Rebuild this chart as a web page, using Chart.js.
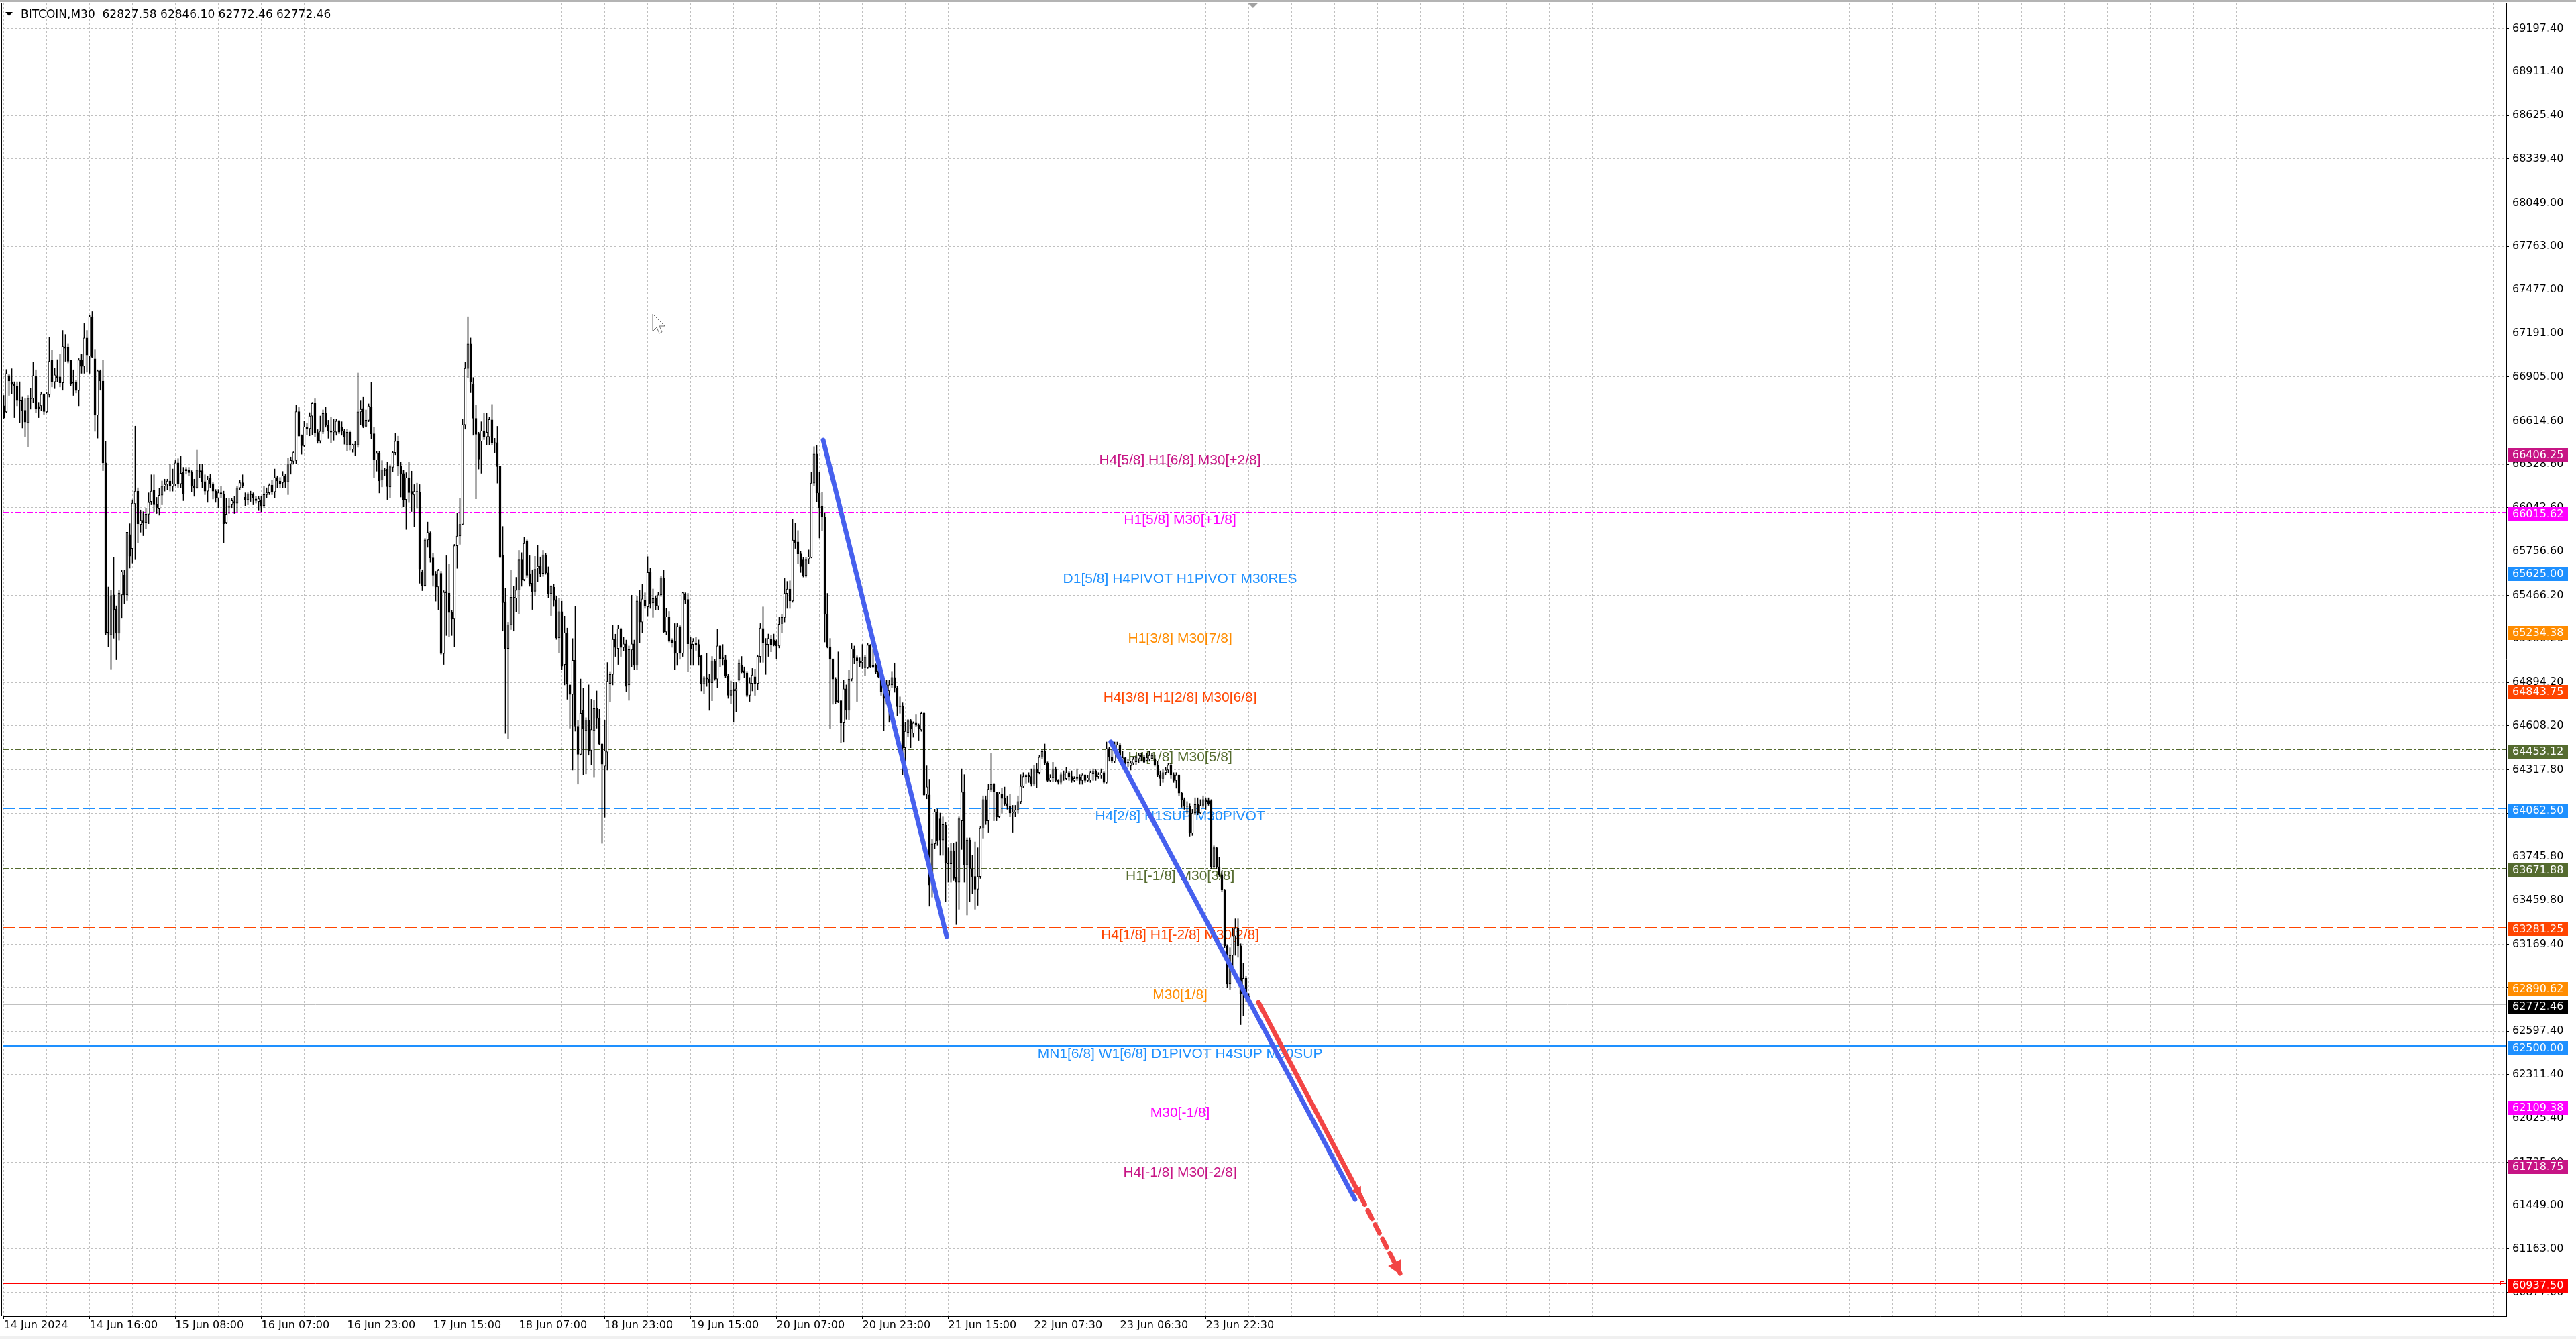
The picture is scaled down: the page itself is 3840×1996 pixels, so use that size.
<!DOCTYPE html>
<html>
<head>
<meta charset="utf-8">
<style>
  html, body { margin: 0; padding: 0; background: #fff; }
  canvas { display: block; }
</style>
<script src="https://cdn.jsdelivr.net/npm/chart.js@4.4.1/dist/chart.umd.min.js"></script>
</head>
<body>
<canvas id="chart" width="3840" height="1996"></canvas>
<script>
const SYMBOL = "BITCOIN,M30";

// one label every 32 bars, as on the time axis
const TIME_LABELS = ["14 Jun 2024", "14 Jun 16:00", "15 Jun 08:00", "16 Jun 07:00", "16 Jun 23:00",
  "17 Jun 15:00", "18 Jun 07:00", "18 Jun 23:00", "19 Jun 15:00", "20 Jun 07:00", "20 Jun 23:00",
  "21 Jun 15:00", "22 Jun 07:30", "23 Jun 06:30", "23 Jun 22:30"];

const OPEN = [
  66714,66674,66913,66872,66856,66843,66748,66748,66685,66602,66764,66764,66908,66710,66714,66789,66674,66787,67012,66872,
  66913,66904,66865,67102,67097,67012,66872,66872,66814,67016,66973,67160,67041,67300,67023,66652,66944,66877,66339,65224,
  65206,65469,65375,65217,65469,65600,65469,65866,65774,66069,66152,65933,65960,65945,66001,66084,66156,66066,66035,66125,
  66184,66197,66219,66183,66197,66339,66201,66275,66287,66291,66275,66186,66174,66287,66287,66215,66152,66237,66201,66152,
  66107,66141,66134,65945,66039,66062,66084,66073,66174,66208,66111,66095,66134,66134,66100,66084,66095,66057,66129,66141,
  66192,66147,66242,66219,66208,66248,66213,66332,66350,66354,66676,66523,66451,66575,66564,66647,66730,66539,66483,66544,
  66664,66585,66550,66540,66540,66613,66575,66550,66455,66540,66428,66457,66455,66674,66697,66579,66619,66707,66530,66357,
  66402,66225,66294,66298,66180,66310,66406,66481,66319,66268,66097,66241,66150,66127,66150,66146,65621,65530,65831,65877,
  65713,65609,65522,65611,65083,65491,65481,65353,65314,65792,65857,65934,66589,66960,67120,66855,66632,66530,66481,66550,
  66510,66510,66622,66471,66471,66317,65727,65424,65117,65272,65454,65448,65501,65700,65570,65822,65609,65546,65493,65644,
  65658,65611,65733,65615,65477,65520,65438,65186,65359,65011,65217,64877,64814,65038,64605,64420,64710,64576,64645,64446,
  64576,64720,64655,64487,64341,64434,64887,64946,65176,65117,65247,65123,65147,64877,65107,65147,65005,65425,65291,65435,
  65390,65617,65416,65445,65396,65469,65581,65226,65325,65173,65167,65084,65262,65084,65475,65439,65147,65143,65153,65143,
  65068,64881,64926,64916,64891,65035,64916,65133,65055,65041,64936,64808,64847,64837,64910,65005,64970,64956,64808,64887,
  64930,64887,65064,65248,65147,65143,65179,65173,65167,65133,65281,65321,65479,65508,65429,65830,65818,65739,65700,65597,
  65706,65716,66205,66396,66140,66051,65982,65341,65128,65045,64916,64772,64772,64626,64851,64709,64916,65114,65055,65035,
  65025,64989,64989,65139,65005,65009,64970,64930,64877,64788,64837,64877,64926,64857,64739,64739,64463,64563,64640,64559,
  64626,64611,64581,64690,64157,64153,63565,63831,64042,63995,63856,63952,63704,63699,63785,63608,63578,63982,64172,63691,
  63856,63666,63615,63532,63615,63932,64122,63982,64190,64223,64172,64008,64160,64129,64096,64078,64033,64040,64053,64109,
  64210,64273,64281,64273,64223,64324,64299,64400,64438,64362,64248,64266,64324,64248,64235,64286,64260,64299,64273,64248,
  64261,64271,64248,64281,64248,64250,64290,64311,64273,64281,64299,64235,64458,64400,64374,64438,64483,64387,64397,64362,
  64345,64362,64370,64390,64412,64402,64380,64387,64392,64392,64349,64281,64261,64299,64316,64349,64286,64248,64281,64165,
  64122,64078,64076,63901,64033,64089,64033,64084,64122,64115,64115,63679,63805,63679,63628,63527,63160,62907,63097,63223,
  63274,63160,62844,62945,62827.58
];
const HIGH = [
  66782,66953,66922,66958,66872,66872,66872,66771,66760,66782,66827,67000,66951,66737,66805,66793,66805,67165,67082,66962,
  67018,67052,67210,67183,67120,67012,66951,66883,67025,67052,67255,67210,67311,67334,67086,66951,66951,67014,66478,65521,
  65499,65717,65397,65499,65634,65634,65882,65938,66095,66580,66174,66028,66017,66039,66141,66260,66260,66111,66170,66219,
  66231,66231,66332,66298,66354,66366,66381,66309,66309,66309,66287,66231,66422,66332,66332,66260,66253,66264,66208,66163,
  66163,66186,66152,66107,66107,66107,66118,66186,66224,66260,66141,66141,66152,66141,66118,66118,66118,66186,66174,66201,
  66224,66298,66253,66242,66282,66264,66370,66377,66411,66719,66703,66523,66613,66602,66669,66737,66760,66557,66647,66687,
  66707,66619,66638,66624,66628,66619,66609,66560,66560,66550,66461,66481,66930,66746,66770,66687,66727,66868,66573,66412,
  66416,66353,66304,66343,66323,66416,66534,66514,66343,66290,66274,66343,66284,66195,66205,66195,65635,65841,65949,65885,
  65743,65625,65639,65625,65497,65727,65674,65369,65802,66008,66107,66628,67000,67300,67160,66900,66717,66540,66609,66668,
  66664,66638,66723,66500,66579,66317,65920,65511,65290,65635,65526,65585,65762,65747,65851,65831,65727,65635,65723,65798,
  65719,65762,65743,65654,65530,65542,65463,65448,65428,65330,65251,64877,65182,65393,64641,64916,64857,64661,64877,64782,
  64778,64837,64716,64493,64641,65024,64965,65271,65211,65271,65251,65192,65172,65133,65467,65172,65459,65498,65538,65483,
  65721,65646,65508,65463,65489,65593,65633,65380,65360,65183,65281,65281,65272,65489,65483,65479,65193,65183,65193,65173,
  65074,64936,65084,64946,65064,65045,65246,65139,65143,65074,64946,64903,64897,64897,65041,65064,64995,64966,64926,64985,
  64981,65074,65281,65390,65183,65212,65206,65212,65173,65321,65341,65577,65558,65562,65968,65942,65893,65755,65716,65716,
  65765,66278,66445,66455,66278,66146,66011,65479,65183,65049,64926,65094,64778,64910,64877,64976,65153,65133,65068,65055,
  65143,65074,65153,65143,65114,65015,64981,64946,64907,64907,64907,64966,65021,64867,64798,64759,64630,64650,64650,64634,
  64680,64621,64699,64694,64344,64256,63860,64058,64060,64033,64008,63970,63805,63836,63836,63843,64008,64324,64286,63870,
  63870,63755,63843,63805,63944,64147,64147,64223,64425,64230,64172,64172,64198,64205,64147,64160,64084,64084,64147,64286,
  64299,64286,64299,64324,64349,64360,64412,64450,64488,64370,64286,64367,64337,64255,64299,64311,64332,64306,64311,64273,
  64324,64286,64291,64286,64281,64311,64324,64318,64299,64324,64305,64501,64468,64450,64501,64501,64495,64438,64400,64387,
  64374,64400,64412,64425,64425,64412,64425,64438,64425,64412,64374,64311,64316,64332,64362,64362,64299,64299,64285,64172,
  64134,64109,64096,64058,64134,64134,64122,64147,64134,64134,64122,63818,63810,63742,63653,63532,63168,63147,63274,63337,
  63337,63173,63046,62958,62846.10
];
const LOW = [
  66630,66669,66782,66793,66636,66714,66602,66568,66512,66444,66692,66737,66669,66636,66681,66658,66669,66771,66838,66827,
  66872,66838,66816,67007,66996,66845,66782,66798,66714,66928,66928,66935,66928,67030,66546,66501,66816,66287,65206,65127,
  64981,65184,65042,65172,65319,65409,65431,65645,65679,65701,65814,65882,65859,65904,65938,66062,66017,66005,65994,66062,
  66152,66163,66152,66152,66186,66174,66174,66089,66264,66253,66147,66118,66170,66242,66174,66129,66078,66174,66100,66078,
  66039,66107,65814,65938,66005,66039,66005,66017,66163,66174,66057,66062,66084,66062,66073,66028,66017,66039,66107,66129,
  66129,66107,66174,66174,66174,66174,66129,66264,66332,66332,66512,66395,66444,66523,66516,66523,66512,66467,66467,66530,
  66573,66500,66471,66487,66520,66530,66520,66461,66416,66422,66408,66388,66440,66589,66569,66573,66609,66495,66239,66284,
  66140,66180,66254,66097,66107,66278,66392,66254,66113,66048,65900,66077,66018,65920,66038,65546,65497,65526,65782,65684,
  65526,65428,65369,65078,65011,65202,65196,65202,65129,65644,65802,65930,66560,66900,66800,66520,66101,66298,66270,66491,
  66455,66455,66455,66402,66205,65713,65231,64558,64523,65241,65231,65359,65345,65526,65562,65585,65526,65373,65461,65556,
  65589,65591,65605,65452,65333,65393,65176,65089,64979,64877,64782,64592,64316,64572,64224,64414,64286,64290,64414,64349,
  64271,64592,64483,63834,64005,64316,64763,64877,65064,65011,65064,65103,64834,64775,64995,64976,64976,65153,65222,65380,
  65331,65380,65321,65370,65370,65459,65222,65206,65159,65124,64976,65005,65045,65064,65410,64966,65005,65005,65104,65005,
  64837,64818,64867,64709,64772,64907,64857,64995,65005,64926,64788,64753,64630,64699,64903,64956,64926,64798,64768,64837,
  64808,64843,65025,65025,64946,65064,65094,65133,65049,65120,65218,65291,65380,65380,65420,65775,65676,65617,65587,65587,
  65676,65712,66185,66081,65844,65889,65159,65120,64591,64749,64753,64759,64496,64502,64650,64646,64903,65015,64768,64995,
  64985,64936,64985,64989,64989,64950,64922,64808,64575,64749,64630,64857,64828,64674,64690,64285,64345,64536,64463,64532,
  64601,64512,64571,64147,64127,63420,63480,63800,63820,63755,63755,63451,63578,63578,63590,63299,63400,63793,63578,63362,
  63451,63502,63400,63426,63603,63868,63957,63907,64172,63982,63982,64000,64033,64084,64058,64008,63907,64008,64033,64096,
  64198,64230,64235,64210,64215,64200,64290,64390,64349,64240,64240,64240,64240,64223,64223,64248,64255,64248,64235,64240,
  64248,64223,64223,64235,64240,64235,64248,64248,64261,64261,64230,64230,64374,64362,64362,64400,64374,64374,64349,64337,
  64316,64349,64349,64362,64374,64362,64374,64374,64387,64342,64273,64215,64235,64286,64299,64261,64235,64197,64147,64071,
  64058,64033,63881,63886,64021,64021,64028,64071,64058,64084,63666,63670,63666,63616,63514,63147,62882,62869,63021,63097,
  63084,62640,62700,62790,62772.46
];
const CLOSE = [
  66636,66926,66877,66854,66843,66748,66746,66681,66607,66764,66760,66913,66692,66697,66789,66676,66793,67007,66872,66917,
  66899,66865,67104,67093,67007,66861,66863,66814,67016,66973,67160,67048,67300,67034,66652,66944,66877,66339,65217,65217,
  65465,65371,65217,65481,65623,65469,65882,65724,66073,66152,65938,65960,65945,66001,66078,66152,66062,66039,66125,66186,
  66197,66219,66186,66201,66339,66201,66271,66134,66296,66275,66186,66174,66291,66282,66215,66152,66226,66197,66152,66107,
  66141,66136,65938,66001,66055,66089,66073,66174,66208,66186,66095,66134,66129,66107,66089,66102,66050,66129,66141,66192,
  66147,66242,66219,66201,66253,66215,66332,66354,66406,66676,66516,66451,66575,66564,66647,66730,66534,66483,66546,66664,
  66585,66550,66540,66550,66613,66540,66550,66510,66540,66455,66457,66455,66674,66691,66579,66619,66713,66530,66357,66402,
  66219,66294,66288,66182,66314,66406,66481,66317,66264,66097,66241,66142,66130,66150,66146,65640,65530,65831,65881,65713,
  65599,65522,65631,65083,65487,65483,65353,65314,65792,65857,65934,66589,66960,67120,66870,66632,66526,66363,66550,66510,
  66540,66624,66471,66467,66314,65719,65418,65117,65274,65454,65448,65501,65700,65570,65808,65599,65542,65491,65638,65658,
  65611,65733,65615,65477,65526,65432,65186,65359,64999,65221,64881,64814,65038,64605,64420,64690,64586,64645,64440,64582,
  64720,64655,64487,64355,64444,64900,64946,65176,65123,65247,65123,65147,64867,65109,65147,65005,65429,65291,65443,65396,
  65617,65410,65445,65396,65469,65583,65226,65325,65167,65153,65084,65262,65084,65483,65439,65147,65114,65163,65140,65064,
  64881,64926,64916,64891,65035,64916,65133,65049,65049,64936,64808,64843,64837,64851,65019,64966,64956,64808,64891,64942,
  64887,65064,65252,65153,65139,65183,65143,65143,65133,65277,65321,65479,65508,65429,65830,65814,65739,65656,65597,65700,
  65720,66205,66396,66140,66041,65982,65341,65128,65045,64916,64768,64768,64626,64851,64709,64916,65114,65055,65035,65021,
  65035,65059,65139,64995,64995,64966,64930,64832,64788,64877,64877,64926,64857,64733,64733,64463,64571,64640,64591,64626,
  64611,64591,64690,64153,64206,63560,63831,64042,63851,63856,63957,63704,63699,63785,63603,63578,63995,64172,63691,63856,
  63666,63615,63532,63615,63932,64122,63982,64190,64223,64172,64008,64160,64129,64096,64078,64033,64040,64053,64109,64210,
  64273,64281,64273,64223,64324,64299,64400,64438,64362,64248,64266,64324,64248,64235,64286,64281,64299,64273,64248,64261,
  64271,64248,64281,64248,64266,64299,64311,64273,64286,64299,64235,64458,64400,64374,64438,64483,64387,64397,64362,64367,
  64362,64387,64400,64412,64402,64367,64397,64412,64412,64349,64281,64261,64299,64316,64349,64286,64248,64281,64165,64122,
  64078,64076,63901,64033,64089,64033,64084,64122,64109,64096,63679,63805,63679,63628,63527,63160,62907,63097,63223,63274,
  63160,62844,62945,62827,62772.46
];

// price axis labels
const Y_TICKS = [69197.40, 68911.40, 68625.40, 68339.40, 68049.00, 67763.00, 67477.00, 67191.00, 66905.00,
  66614.60, 66328.60, 66042.60, 65756.60, 65466.20, 65180.20, 64894.20, 64608.20, 64317.80, 64031.80,
  63745.80, 63459.80, 63169.40, 62883.40, 62597.40, 62311.40, 62025.40, 61735.00, 61449.00, 61163.00, 60877.00];

// murrey / pivot levels
const LEVEL_PRICES = [66406.25, 66015.62, 65625.00, 65234.38, 64843.75, 64453.12, 64062.50,
  63671.88, 63281.25, 62890.62, 62500.00, 62109.38, 61718.75, 60937.50];
const LEVEL_TEXTS = ["H4[5/8] H1[6/8] M30[+2/8]", "H1[5/8] M30[+1/8]", "D1[5/8] H4PIVOT H1PIVOT M30RES",
  "H1[3/8] M30[7/8]", "H4[3/8] H1[2/8] M30[6/8]", "H1[1/8] M30[5/8]", "H4[2/8] H1SUP M30PIVOT",
  "H1[-1/8] M30[3/8]", "H4[1/8] H1[-2/8] M30[2/8]", "M30[1/8]", "MN1[6/8] W1[6/8] D1PIVOT H4SUP M30SUP",
  "M30[-1/8]", "H4[-1/8] M30[-2/8]", ""];
const LAST_PRICE = 62772.46;

// drawn trend lines, [bar index, price]
const TREND_A = [[305.4, 66488], [351.4, 63221]];
const TREND_B = [[412.6, 64502], [503.6, 61490]];
const PROJ_SOLID = [[467.6, 62788], [505.6, 61512]];
const PROJ_DASHED = [[505.6, 61512], [520.4, 61004]];

// ---- styles ----
const DASH = [18, 6];
const DASHDOT = [9, 3, 3, 3];
const LEVEL_STYLES = [
  { color: "#C71585", dash: DASH }, { color: "#FF00FF", dash: DASHDOT }, { color: "#1E90FF", dash: [] },
  { color: "#FF8C00", dash: DASHDOT }, { color: "#FF4500", dash: DASH }, { color: "#556B2F", dash: DASHDOT },
  { color: "#1E90FF", dash: DASH }, { color: "#556B2F", dash: DASHDOT }, { color: "#FF4500", dash: DASH },
  { color: "#FF8C00", dash: DASHDOT }, { color: "#1E90FF", dash: [], width: 2 }, { color: "#FF00FF", dash: DASHDOT },
  { color: "#C71585", dash: DASH }, { color: "#FF0000", dash: [] }
];
const LABEL_AT = 438.4;
const X_MIN = -0.375, X_MAX = 932.625;
const Y_MIN = 60721.3, Y_MAX = 69367.4;
const BLUE = "#4660EE", RED = "#F24545";

Chart.defaults.font.family = '"DejaVu Sans", Verdana, sans-serif';
Chart.defaults.font.size = 16;
Chart.defaults.color = "#000";

const toXY = (pts) => pts.map(([x, y]) => ({ x, y }));

function snap(v) { return Math.round(v) + 0.5; }

const levelPlugin = {
  id: "levels",
  beforeDatasetsDraw(chart) {
    const { ctx, chartArea: a, scales: { x, y } } = chart;
    ctx.save();
    ctx.beginPath();
    ctx.rect(a.left, a.top, a.right - a.left, a.bottom - a.top);
    ctx.clip();
    // bid line
    let py = snap(y.getPixelForValue(LAST_PRICE));
    ctx.strokeStyle = "#C0C0C0";
    ctx.lineWidth = 1;
    ctx.setLineDash([]);
    ctx.beginPath(); ctx.moveTo(a.left, py); ctx.lineTo(a.right, py); ctx.stroke();
    LEVEL_PRICES.forEach((p, k) => {
      const st = LEVEL_STYLES[k];
      const w = st.width || 1;
      py = w % 2 ? snap(y.getPixelForValue(p)) : Math.round(y.getPixelForValue(p));
      ctx.strokeStyle = st.color;
      ctx.lineWidth = w;
      ctx.setLineDash(st.dash);
      ctx.beginPath(); ctx.moveTo(a.left, py); ctx.lineTo(a.right, py); ctx.stroke();
    });
    ctx.setLineDash([]);
    ctx.font = '21px "Liberation Sans", Arial, sans-serif';
    ctx.textAlign = "center";
    ctx.textBaseline = "middle";
    const lx = x.getPixelForValue(LABEL_AT);
    LEVEL_PRICES.forEach((p, k) => {
      if (!LEVEL_TEXTS[k]) return;
      ctx.fillStyle = LEVEL_STYLES[k].color;
      ctx.fillText(LEVEL_TEXTS[k], lx, y.getPixelForValue(p) + 12);
    });
    ctx.restore();
  },
  afterDatasetsDraw(chart) {
    const { ctx, scales: { x, y } } = chart;
    const arrow = (seg, size, color) => {
      const [p0, p1] = seg;
      const x0 = x.getPixelForValue(p0[0]), y0 = y.getPixelForValue(p0[1]);
      const x1 = x.getPixelForValue(p1[0]), y1 = y.getPixelForValue(p1[1]);
      const ang = Math.atan2(y1 - y0, x1 - x0);
      ctx.save();
      ctx.fillStyle = color;
      ctx.translate(x1, y1);
      ctx.rotate(ang);
      ctx.beginPath();
      ctx.moveTo(3, 0);
      ctx.lineTo(-size, -size * 0.6);
      ctx.lineTo(-size, size * 0.6);
      ctx.closePath();
      ctx.fill();
      ctx.restore();
    };
    arrow(PROJ_SOLID, 13, RED);
    arrow(PROJ_DASHED, 18, RED);
  },
  afterDraw(chart) {
    const { ctx, chartArea: a, scales: { x, y } } = chart;
    ctx.save();
    // frame
    ctx.fillStyle = "#B4B4B4";
    ctx.fillRect(0, 0, chart.width, 3);
    ctx.fillStyle = "#F0F0F0";
    ctx.fillRect(0, chart.height - 4, chart.width, 4);
    ctx.strokeStyle = "#000";
    ctx.lineWidth = 1;
    ctx.beginPath();
    ctx.moveTo(2.5, a.bottom); ctx.lineTo(2.5, a.top + 0.5); ctx.lineTo(a.right, a.top + 0.5);
    ctx.stroke();
    // shift marker
    const sx = x.getPixelForValue(465.6);
    ctx.fillStyle = "#A0A0A0";
    ctx.beginPath(); ctx.moveTo(sx - 7, a.top + 1); ctx.lineTo(sx + 7, a.top + 1); ctx.lineTo(sx, a.top + 8); ctx.closePath(); ctx.fill();
    // mouse pointer left on the screenshot
    const cx = 973, cy = 468;
    ctx.fillStyle = "#fff";
    ctx.strokeStyle = "#707070";
    ctx.beginPath();
    ctx.moveTo(cx, cy); ctx.lineTo(cx, cy + 26); ctx.lineTo(cx + 6, cy + 20); ctx.lineTo(cx + 10, cy + 29);
    ctx.lineTo(cx + 14, cy + 27); ctx.lineTo(cx + 10, cy + 18); ctx.lineTo(cx + 18, cy + 18); ctx.closePath();
    ctx.fill(); ctx.stroke();
    // end marker of the red level
    const ry = y.getPixelForValue(LEVEL_PRICES[13]);
    ctx.strokeStyle = "#FF0000";
    ctx.strokeRect(a.right - 8.5, Math.round(ry) - 2.5, 5, 5);
    // price boxes on the axis
    ctx.font = '16px "DejaVu Sans", Verdana, sans-serif';
    ctx.textBaseline = "middle";
    ctx.textAlign = "left";
    const box = (p, bg) => {
      const py = Math.round(y.getPixelForValue(p)) + 3;
      ctx.fillStyle = bg;
      ctx.fillRect(a.right + 2, py - 10, 90, 21);
      ctx.fillStyle = "#fff";
      ctx.fillText(p.toFixed(2), a.right + 9, py + 1);
    };
    LEVEL_PRICES.forEach((p, k) => box(p, LEVEL_STYLES[k].color));
    box(LAST_PRICE, "#000");
    // header
    const n = OPEN.length - 1;
    ctx.fillStyle = "#000";
    ctx.beginPath(); ctx.moveTo(8, 18); ctx.lineTo(19, 18); ctx.lineTo(13.5, 24); ctx.closePath(); ctx.fill();
    ctx.font = '17px "DejaVu Sans", Verdana, sans-serif';
    ctx.fillText(SYMBOL + "  " + [OPEN[n], HIGH[n], LOW[n], CLOSE[n]].map(v => v.toFixed(2)).join(" "), 31, 23);
    ctx.restore();
  }
};

const idx = OPEN.map((_, i) => i);
const bodies = idx.map(i => ({ x: i, y: [OPEN[i], CLOSE[i]] }));
const wicks = idx.map(i => ({ x: i, y: [LOW[i], HIGH[i]] }));

const trendStyle = (color, dash) => ({
  type: "line", borderColor: color, borderWidth: 7, borderDash: dash || [],
  borderCapStyle: "round", pointRadius: 0, tension: 0, order: 0
});

new Chart(document.getElementById("chart").getContext("2d"), {
  type: "bar",
  data: {
    datasets: [
      { label: "body", data: bodies, grouped: false, barThickness: 3, minBarLength: 1,
        borderWidth: 1, borderColor: "#000", borderSkipped: false, order: 2,
        backgroundColor: (c) => CLOSE[c.dataIndex] >= OPEN[c.dataIndex] ? "#fff" : "#000" },
      { label: "wick", data: wicks, grouped: false, barThickness: 1, borderWidth: 0,
        backgroundColor: "#000", order: 3 },
      Object.assign({ label: "trendA", data: toXY(TREND_A) }, trendStyle(BLUE)),
      Object.assign({ label: "trendB", data: toXY(TREND_B) }, trendStyle(BLUE)),
      Object.assign({ label: "proj", data: toXY(PROJ_SOLID) }, trendStyle(RED)),
      Object.assign({ label: "projDash", data: toXY(PROJ_DASHED) }, trendStyle(RED, [14, 10]))
    ]
  },
  options: {
    responsive: false,
    animation: false,
    devicePixelRatio: 1,
    events: [],
    layout: { padding: { left: 4, top: 4, right: 0, bottom: 0 } },
    plugins: { legend: { display: false }, tooltip: { enabled: false } },
    scales: {
      x: {
        type: "linear", min: X_MIN, max: X_MAX, offset: false, bounds: "data",
        afterBuildTicks: (s) => {
          const t = [];
          for (let v = 0; v <= X_MAX; v += 16) t.push({ value: v });
          s.ticks = t;
        },
        afterFit: (s) => { s.height = 34; s.paddingLeft = 0; s.paddingRight = 0; },
        ticks: {
          autoSkip: false, maxRotation: 0, minRotation: 0, align: "start", padding: 0,
          callback: (v) => (v % 32 === 0 && TIME_LABELS[v / 32]) || ""
        },
        grid: {
          offset: false, color: "#C0C0C0", lineWidth: 1, tickLength: 4,
          tickColor: (c) => (c.tick && c.tick.value % 32 === 0 && c.tick.value / 32 < TIME_LABELS.length) ? "#000" : "rgba(0,0,0,0)"
        },
        border: { display: true, color: "#000", width: 1, dash: [3, 3] }
      },
      y: {
        type: "linear", position: "right", min: Y_MIN, max: Y_MAX, beginAtZero: false, bounds: "data",
        afterBuildTicks: (s) => { s.ticks = Y_TICKS.map(v => ({ value: v })); },
        afterFit: (s) => { s.width = 104; s.paddingTop = 0; s.paddingBottom = 0; },
        ticks: { autoSkip: false, padding: 5, callback: (v) => Number(v).toFixed(2) },
        grid: { color: "#C0C0C0", lineWidth: 1, tickLength: 4, tickColor: "#000" },
        border: { display: true, color: "#000", width: 1, dash: [3, 3] }
      }
    }
  },
  plugins: [levelPlugin]
});
</script>
</body>
</html>
